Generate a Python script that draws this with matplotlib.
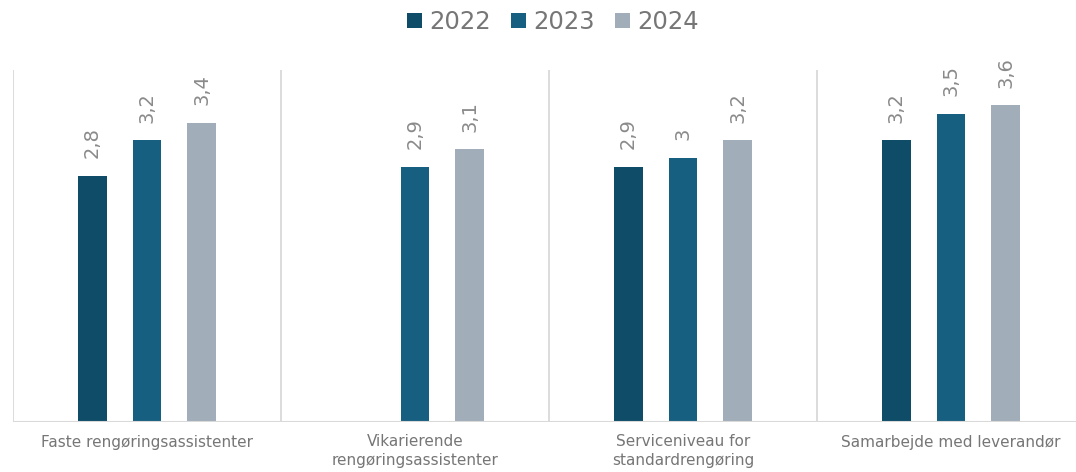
import numpy as np
import matplotlib.pyplot as plt

categories = ['Faste rengøringsassistenter',
              'Vikarierende\nrengøringsassistenter',
              'Serviceniveau for\nstandardrengøring',
              'Samarbejde med leverandør']
years = ['2022', '2023', '2024']
v2022 = [2.8, np.nan, 2.9, 3.2]
v2023 = [3.2, 2.9, 3.0, 3.5]
v2024 = [3.4, 3.1, 3.2, 3.6]

colors = ['#0f4c68', '#175f80', '#a1aeb9']
grey = '#767676'

fig = plt.figure(figsize=(10.76, 4.72), dpi=100)
ax = fig.add_axes([13/1076, 50/472, 1072/1076, 352/472])

x = np.arange(len(categories))
w = 0.108
step = 0.205
for i, (vals, c, yr) in enumerate(zip([v2022, v2023, v2024], colors, years)):
    pos = x + (i - 1) * step
    ax.bar(pos, vals, width=w, color=c, label=yr)
    for p, v in zip(pos, vals):
        if np.isnan(v):
            continue
        ax.text(p, v + 0.2, f'{v:g}'.replace('.', ','), rotation=90,
                ha='center', va='bottom', color='#8a8a8a', fontsize=14)

ax.set_xlim(-0.5, len(categories) - 0.5)
ax.set_ylim(0, 4)
for b in np.arange(len(categories) + 1) - 0.5:
    ax.axvline(b, color='#d9d9d9', lw=1.3, zorder=0)
ax.axhline(0, color='#d9d9d9', lw=1.5)

for s in ax.spines.values():
    s.set_visible(False)
ax.set_yticks([])
ax.set_xticks(x)
ax.set_xticklabels(categories, fontsize=11, color=grey, linespacing=1.25)
ax.tick_params(axis='x', length=0, pad=9)

fig.legend(loc='center', bbox_to_anchor=(553/1076, 1 - 22/472), ncol=3,
           frameon=False, fontsize=17.5, labelcolor=grey, handlelength=0.6,
           handleheight=0.6, handletextpad=0.3, columnspacing=0.85)

fig.savefig('out.png', dpi=100)
